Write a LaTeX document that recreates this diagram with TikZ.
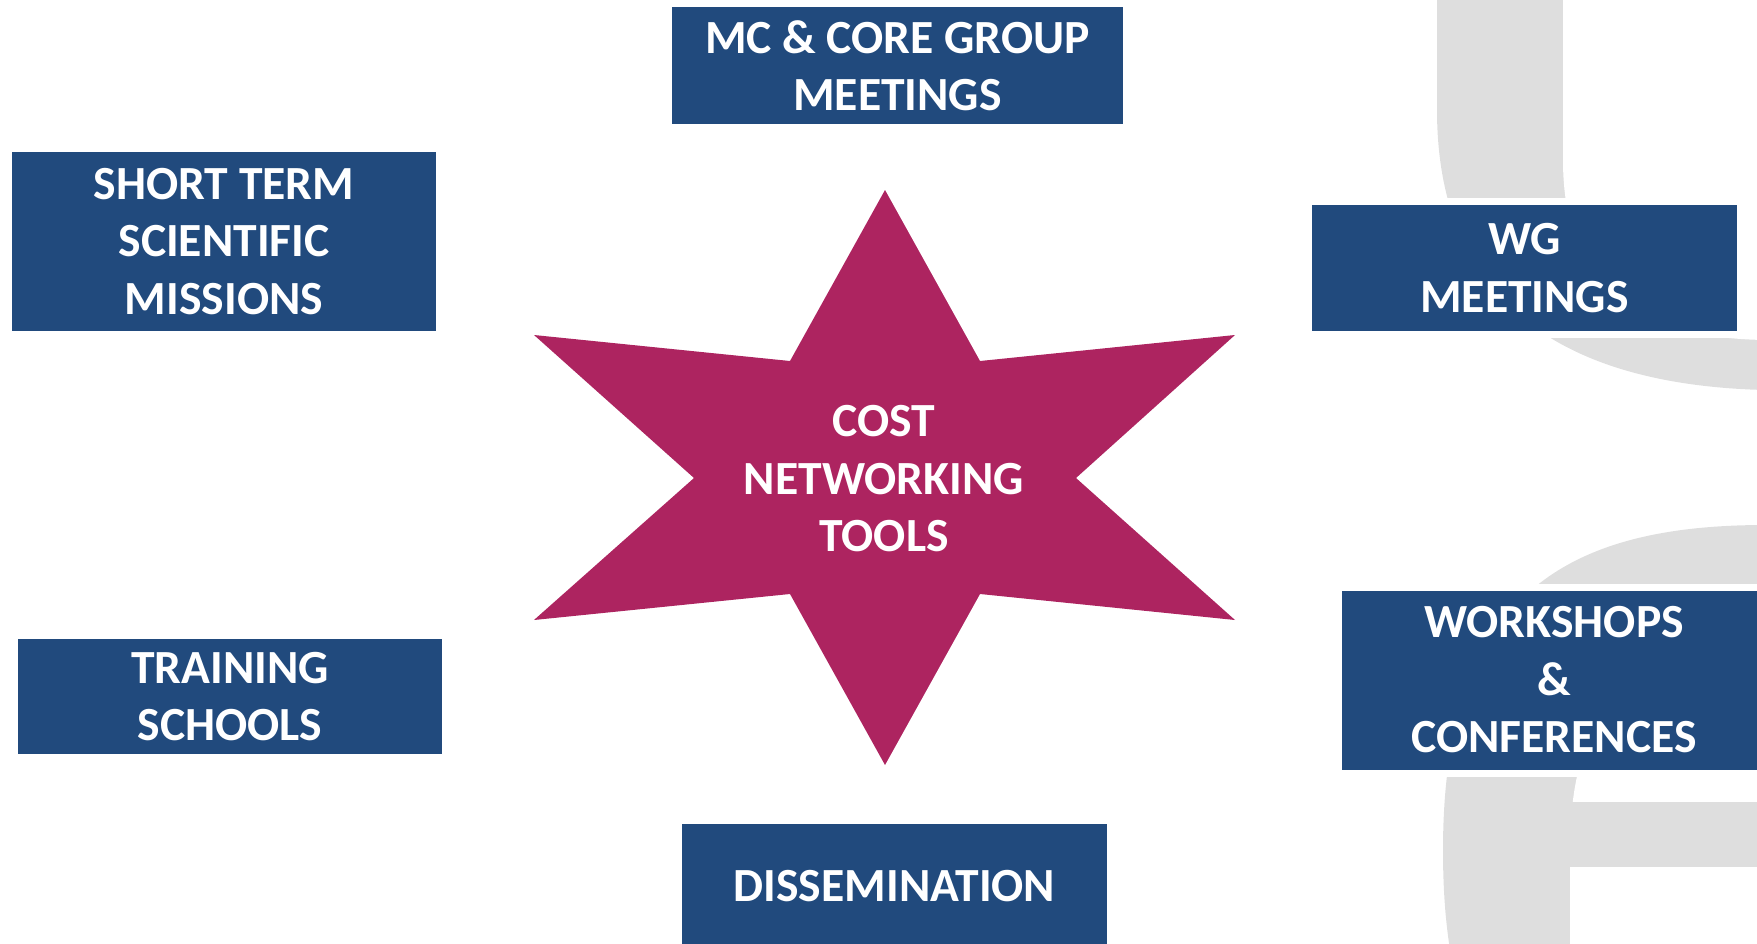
\documentclass[tikz,border=0pt]{standalone}
\usepackage{fontspec}
\setmainfont{Carlito}
\definecolor{boxblue}{HTML}{214A7D}
\definecolor{starred}{HTML}{AD2460}
\definecolor{wmgrey}{HTML}{DEDEDE}
\begin{document}
\begin{tikzpicture}[x=0.5pt,y=-0.5pt,
  box/.style={fill=boxblue, text=white, align=center, inner sep=0pt,
    font=\fontsize{23.8pt}{28.75pt}\selectfont\bfseries,
    preaction={draw=white, line width=7pt}},
  startext/.style={text=white, align=center, inner sep=0pt,
    font=\fontsize{23.8pt}{28.75pt}\selectfont\bfseries}]
\useasboundingbox (0,0) rectangle (1757,943);
\begin{scope}
\clip (0,0) rectangle (1757,943);
% watermark letters
\fill[wmgrey] (1437,-5) -- (1437,110) .. controls (1437,300) and (1560,385) .. (1765,390) -- (1765,-5) -- cycle;
\fill[white] (1563,-5) -- (1563,160) .. controls (1563,290) and (1640,338) .. (1765,340) -- (1765,-5) -- cycle;
\fill[wmgrey] (1765,525) .. controls (1560,525) and (1443,600) .. (1443,850) .. controls (1443,900) and (1447,930) .. (1450,950) -- (1765,950) -- cycle;
\fill[white] (1765,640) .. controls (1640,640) and (1570,700) .. (1570,850) -- (1570,950) -- (1765,950) -- cycle;
\fill[wmgrey] (1570,802) rectangle (1765,867);
% star
\fill[starred] (885,190) -- (980,361) -- (1235,335) -- (1076,478) -- (1235,620) -- (980,594) -- (885,765) -- (790,594) -- (534,620) -- (694,478) -- (534,335) -- (790,361) -- cycle;
\node[startext] (center) at (884,479) {COST\\NETWORKING\\TOOLS};
% boxes
\node[box, minimum width=225.5pt, minimum height=58.5pt] (mc) at (897.5,65.5) {MC \& CORE GROUP\\MEETINGS};
\node[box, minimum width=212pt, minimum height=89.5pt] (stsm) at (224,241.5) {SHORT TERM\\SCIENTIFIC\\MISSIONS};
\node[box, minimum width=212.5pt, minimum height=63pt] (wg) at (1524.5,268) {WG\\MEETINGS};
\node[box, minimum width=212pt, minimum height=57.5pt] (ts) at (230,696.5) {TRAINING\\SCHOOLS};
\node[box, minimum width=212pt, minimum height=89.5pt] (ws) at (1554,680) {WORKSHOPS\\\&\\CONFERENCES};
\node[box, minimum width=212.5pt, minimum height=62pt] (dis) at (894.5,886) {DISSEMINATION};
\end{scope}
\end{tikzpicture}
\end{document}
